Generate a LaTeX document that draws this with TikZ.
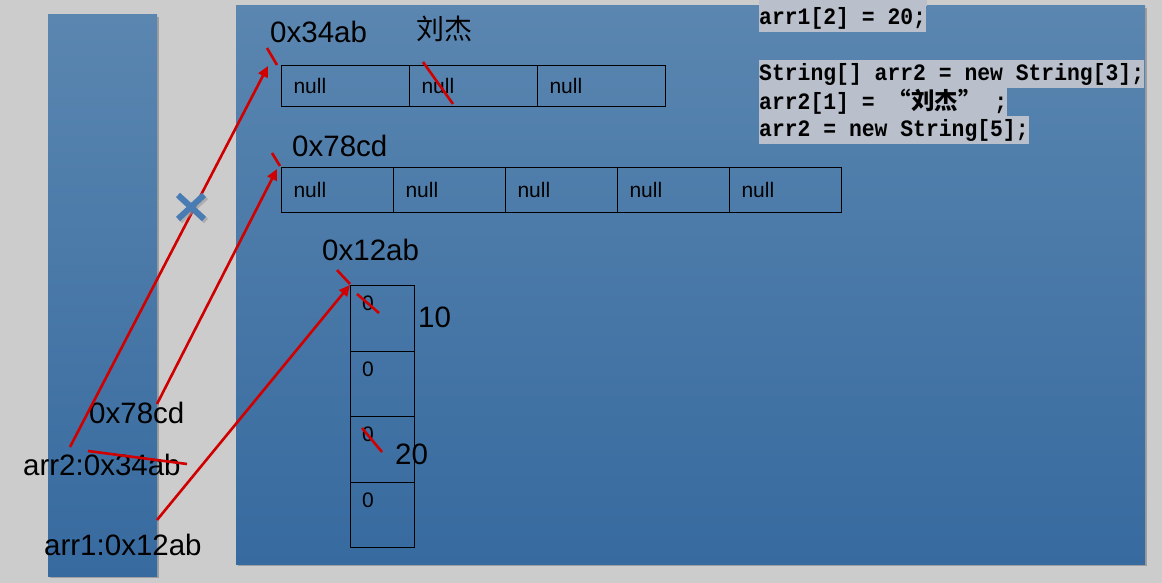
\documentclass[tikz,border=0pt]{standalone}
\usepackage{fontspec}
\setmainfont{Liberation Sans}
\setmonofont[FakeStretch=0.91]{Liberation Mono}
\newfontfamily\cjk{Noto Sans CJK SC}
\usetikzlibrary{shadows,arrows.meta,positioning}
\definecolor{bg}{HTML}{CCCCCC}
\definecolor{blktop}{HTML}{5A86B0}
\definecolor{blkbot}{HTML}{376A9F}
\definecolor{redline}{HTML}{D00000}
\definecolor{hl}{HTML}{B9C0CB}
\definecolor{cross}{HTML}{4A7CB4}
\begin{document}
\begin{tikzpicture}[x=1pt,y=-1pt,
    blk/.style={top color=blktop,bottom color=blkbot,draw=none,
      drop shadow={shadow xshift=2pt,shadow yshift=-2pt,opacity=.35,fill=black!70}},
    lbl/.style={anchor=base west,inner sep=0pt,font=\fontsize{29.5}{31}\selectfont},
    cellA/.style={draw,line width=1.1pt,anchor=north west,inner xsep=12pt,inner ysep=0pt,
      align=left,font=\fontsize{21}{22}\selectfont},
    cellB/.style={draw,line width=1.1pt,anchor=north west,inner sep=0pt,
      minimum width=64pt,minimum height=65.5pt},
    zero/.style={inner sep=0pt,font=\fontsize{21}{22}\selectfont},
    code/.style={anchor=west,fill=hl,inner xsep=0pt,inner ysep=0pt,minimum height=28pt,
      font=\ttfamily\bfseries\fontsize{23.5}{24}\selectfont},
    ptr/.style={draw=redline,line width=2.6pt,-{Triangle[length=11pt,width=10pt]}},
    cut/.style={draw=redline,line width=2.6pt}]
  \useasboundingbox (0,0) rectangle (1162,583);
  \fill[bg] (0,0) rectangle (1162,583);

  % stack and heap
  \path[blk] (48,15) rectangle (157,576);
  \path[blk] (236,6) rectangle (1145,564);

  % code
  \fill[hl] (759,0) rectangle (927,6);
  \node[code] (l1) at (759,18.5) {arr1[2] = 20;};
  \node[code] (l2) at (759,74) {String[] arr2 = new String[3];};
  \node[code] (l3) at (759,102) {arr2[1] = {\cjk\bfseries “刘杰”} ;};
  \node[code] (l4) at (759,130) {arr2 = new String[5];};

  % String[3]
  \foreach \i in {0,1,2}
    \node[cellA,text width=104pt,minimum height=41pt] (a\i) at ({281+128*\i},65) {null};
  \node[lbl] (h34) at (270,43) {0x34ab};
  \node[lbl,font=\cjk\fontsize{28}{30}\selectfont] (name) at (416,40) {刘杰};

  % String[5]
  \foreach \i in {0,...,4}
    \node[cellA,text width=88pt,minimum height=45pt] (b\i) at ({281+112*\i},167) {null};
  \node[lbl] (h78) at (292,157) {0x78cd};

  % int[4]
  \foreach \i in {1,...,4} {
    \node[cellB] (c\i) at (350,{285+65.5*(\i-1)}) {};
    \node[zero,below right=11pt and 12pt of c\i.north west] (z\i) {0};
  }
  \node[lbl] (h12) at (322,260) {0x12ab};
  \node[lbl] (v10) at (418,327) {10};
  \node[lbl] (v20) at (395,464) {20};

  % stack labels
  \node[lbl] (new2) at (89,423) {0x78cd};
  \node[lbl] (arr2) at (23,475) {arr2:0x34ab};
  \node[lbl] (arr1) at (44,555) {arr1:0x12ab};

  % pointers
  \coordinate (p2) at (70,447);
  \coordinate (q2) at (268,66);
  \coordinate (p5) at (157,404);
  \coordinate (q5) at (277,169);
  \coordinate (p1) at (157,520);
  \draw[ptr] (p2) -- (q2);
  \draw[ptr] (p5) -- (q5);
  \draw[ptr] (p1) -- (c1.north west);

  % marks
  \draw[cut] (267,48) -- (277,65);
  \draw[cut] (272,153) -- (280,166);
  \draw[cut] (337,270) -- (350,284);
  \draw[cut] (423,62) -- (453,104);
  \draw[cut] (357,294) -- (379,313);
  \draw[cut] (362,428) -- (382,452);
  \draw[cut] (88,451) -- (187,464);

  % cross
  \draw[black!40,opacity=.6,line width=6pt] (180,197) -- (206,221) (180,221) -- (206,197);
  \draw[cross,line width=6pt] (178,195) -- (204,219) (178,219) -- (204,195);
\end{tikzpicture}
\end{document}
